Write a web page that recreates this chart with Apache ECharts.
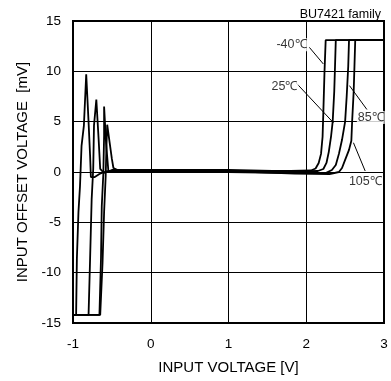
<!DOCTYPE html>
<html>
<head>
<meta charset="utf-8">
<script src="https://cdn.jsdelivr.net/npm/echarts@6/dist/echarts.min.js"></script>
<style>
html, body { margin: 0; padding: 0; background: #fff; }
#chart { width: 391px; height: 381px; }
</style>
</head>
<body>
<div id="chart"></div>
<script>
// offset voltage vs input voltage, one curve per temperature
var temps = ['-40℃', '25℃', '85℃', '105℃'];

var curveM40 = [[-1,-14.2],[-0.96,-14.2],[-0.95,-8.6],[-0.93,-4],[-0.91,-1.4],[-0.89,2.6],[-0.86,4.6],[-0.83,9.7],
    [-0.8,5],[-0.78,1.6],[-0.77,-0.5],[-0.72,-0.5],[-0.66,-0.2],[-0.58,0.05],[-0.5,0.1],[0,0.1],[1,0.1],[1.8,0.1],
    [2.06,0.15],[2.12,0.35],[2.16,0.9],[2.19,1.8],[2.21,3.5],[2.22,6],[2.235,10],[2.25,13.1],[3,13.1]];
var curve25 = [[-1,-14.2],[-0.8,-14.2],[-0.78,-8.6],[-0.76,-2.7],[-0.74,0.3],[-0.73,4.6],[-0.7,7.2],
    [-0.67,3.2],[-0.65,0.3],[-0.6,-0.1],[-0.5,0.2],[0,0.2],[1,0.2],[1.85,0.05],[2.15,0.1],[2.22,0.3],
    [2.26,0.9],[2.29,2],[2.32,3.6],[2.34,5],[2.36,8],[2.37,10.5],[2.38,13.1],[3,13.1]];
var curve85 = [[-1,-14.2],[-0.66,-14.2],[-0.64,-8.6],[-0.63,-3.4],[-0.61,-0.2],[-0.6,3.6],[-0.6,6.5],
    [-0.575,2.9],[-0.545,0.1],[-0.5,0.0],[0,0.0],[1,0.0],[1.85,-0.1],[2.25,-0.1],[2.33,0.2],[2.38,0.7],
    [2.42,1.8],[2.46,3.2],[2.5,5],[2.52,7.5],[2.54,10.5],[2.55,13.1],[3,13.1]];
var curve105 = [[-1,-14.2],[-0.65,-14.2],[-0.62,-9],[-0.6,-4],[-0.58,-0.5],[-0.57,2.5],[-0.56,4.7],
    [-0.53,3],[-0.5,1.3],[-0.48,0.4],[-0.4,0.1],[0,0.1],[1,0.1],[1.85,-0.15],[2.3,-0.2],[2.42,0],
    [2.46,0.4],[2.5,1.2],[2.55,2.2],[2.58,3.1],[2.59,5],[2.61,8],[2.62,10.5],[2.63,13.1],[3,13.1]];

// leader lines from each label to its curve
var leaders = [
    [[2.04,12.38],[2.22,10.73]],
    [[1.87,8.85],[2.35,4.89]],
    [[2.556,8.58],[2.78,6.21]],
    [[2.607,2.91],[2.758,0.1]]
];
var labelPos = [[1.81,12.64],[1.72,8.49],[2.83,5.42],[2.76,-0.92]];

var curves = [curveM40, curve25, curve85, curve105];

var dom = document.getElementById('chart');
var myChart = echarts.init(dom);

var series = [];
curves.forEach(function (c, i) {
    series.push({
        name: temps[i],
        type: 'line',
        data: c,
        symbol: 'none',
        lineStyle: { color: '#000', width: 1.8 },
        z: 3
    });
});
leaders.forEach(function (l) {
    series.push({
        type: 'line',
        data: l,
        symbol: 'none',
        silent: true,
        lineStyle: { color: '#000', width: 1 },
        z: 4
    });
});
series.push({
    type: 'scatter',
    symbolSize: 0,
    data: labelPos.map(function (p, i) { return { value: p, label: { formatter: temps[i] } }; }),
    label: {
        show: true,
        position: 'inside',
        color: '#000',
        fontSize: 12.5,
        fontFamily: 'Liberation Sans, Arial',
        backgroundColor: '#fff',
        padding: [0, 1]
    },
    z: 5
});

var option = {
    animation: false,
    title: {
        text: 'BU7421 family',
        right: 5,
        top: 3,
        textStyle: { fontSize: 12.5, fontWeight: 'normal', color: '#000', fontFamily: 'Liberation Sans, Arial' }
    },
    grid: {
        left: 73,
        right: 7,
        top: 21,
        bottom: 58,
        show: true,
        borderColor: '#000',
        borderWidth: 2
    },
    xAxis: {
        type: 'value',
        min: -1,
        max: 3,
        interval: 1,
        name: 'INPUT VOLTAGE [V]',
        nameLocation: 'middle',
        nameGap: 37,
        nameTextStyle: { color: '#000', fontSize: 15, fontFamily: 'Liberation Sans, Arial' },
        axisLine: { show: false },
        axisTick: { show: false },
        axisLabel: { color: '#000', fontSize: 13.5, margin: 14, fontFamily: 'Liberation Sans, Arial' },
        splitLine: { show: true, lineStyle: { color: '#000', width: 1 } }
    },
    yAxis: {
        type: 'value',
        min: -15,
        max: 15,
        interval: 5,
        name: 'INPUT OFFSET VOLTAGE  [mV]',
        nameLocation: 'middle',
        nameGap: 34,
        nameTextStyle: { color: '#000', fontSize: 15, fontFamily: 'Liberation Sans, Arial' },
        axisLine: { show: false },
        axisTick: { show: false },
        axisLabel: { color: '#000', fontSize: 13.5, margin: 12, fontFamily: 'Liberation Sans, Arial' },
        splitLine: { show: true, lineStyle: { color: '#000', width: 1 } }
    },
    series: series
};

myChart.setOption(option, true);
</script>
</body>
</html>
